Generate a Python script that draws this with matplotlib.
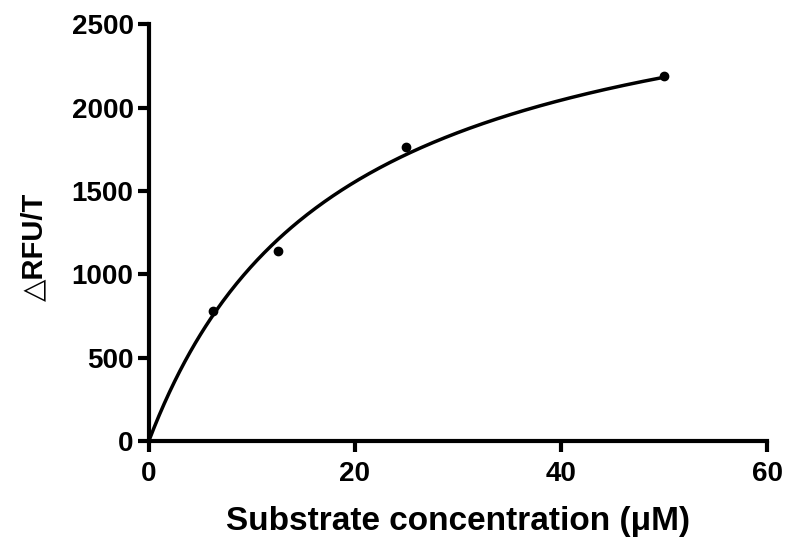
import numpy as np
import matplotlib
matplotlib.use("Agg")
from matplotlib import pyplot as plt

# measured points
conc = [6.25, 12.5, 25, 50]
rate = [779, 1139, 1763, 2190]

# Michaelis-Menten fit parameters
vmax = 2985
km = 18.4

plt.rcParams['font.family'] = ['Liberation Sans', 'DejaVu Sans']
plt.rcParams['font.weight'] = 'bold'

fig = plt.figure(figsize=(8, 5.5), dpi=100)
ax = fig.add_axes([0.186, 0.198, 0.773, 0.758])

xs = np.linspace(0, 50, 300)
ax.plot(xs, vmax * xs / (km + xs), color='black', lw=2.5, solid_capstyle='butt')
ax.plot(conc, rate, 'o', color='black', ms=6)

ax.set_xlim(0, 60)
ax.set_ylim(0, 2500)
ax.set_xticks([0, 20, 40, 60])
ax.set_yticks([0, 500, 1000, 1500, 2000, 2500])

for s in ['top', 'right']:
    ax.spines[s].set_visible(False)
for s in ['left', 'bottom']:
    ax.spines[s].set_linewidth(3)
ax.tick_params(length=8, width=3, labelsize=20)
ax.tick_params(axis='x', pad=6)
ax.tick_params(axis='y', pad=3)
for lbl in ax.get_xticklabels() + ax.get_yticklabels():
    lbl.set_fontweight('bold')

ax.set_xlabel('Substrate concentration (\u03bcM)', fontsize=24, fontweight='bold', labelpad=14)
ax.set_ylabel('\u25b3RFU/T', fontsize=21, fontweight='bold')
ax.yaxis.set_label_coords(-0.163, 0.465)

fig.savefig('out.png', dpi=100)
